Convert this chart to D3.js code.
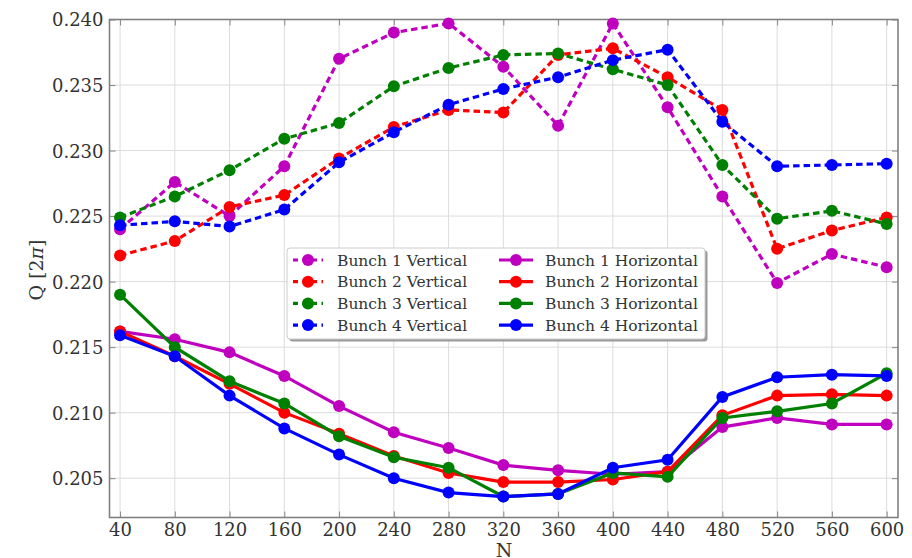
<!DOCTYPE html>
<html>
<head>
<meta charset="utf-8">
<script src="https://cdn.jsdelivr.net/npm/d3@7"></script>
<style>
  html, body { margin: 0; padding: 0; background: #fff; }
  svg { display: block; }
  text { font-family: "DejaVu Serif", serif; fill: #333; }
</style>
</head>
<body>
<svg id="chart" width="912" height="558"></svg>
<script>
const N = [40, 80, 120, 160, 200, 240, 280, 320, 360, 400, 440, 480, 520, 560, 600];
const xTicks = [40, 80, 120, 160, 200, 240, 280, 320, 360, 400, 440, 480, 520, 560, 600];
const yTicks = [0.205, 0.210, 0.215, 0.220, 0.225, 0.230, 0.235, 0.240];

const bunch1Vertical   = [0.2240, 0.2276, 0.2250, 0.2288, 0.2370, 0.2390, 0.2397, 0.2364, 0.2319, 0.2397, 0.2333, 0.2265, 0.2199, 0.2221, 0.2211];
const bunch2Vertical   = [0.2220, 0.2231, 0.2257, 0.2266, 0.2294, 0.2318, 0.2331, 0.2329, 0.2373, 0.2378, 0.2356, 0.2331, 0.2225, 0.2239, 0.2249];
const bunch3Vertical   = [0.2249, 0.2265, 0.2285, 0.2309, 0.2321, 0.2349, 0.2363, 0.2373, 0.2374, 0.2362, 0.2350, 0.2289, 0.2248, 0.2254, 0.2244];
const bunch4Vertical   = [0.2243, 0.2246, 0.2242, 0.2255, 0.2291, 0.2314, 0.2335, 0.2347, 0.2356, 0.2369, 0.2377, 0.2322, 0.2288, 0.2289, 0.2290];
const bunch1Horizontal = [0.2162, 0.2156, 0.2146, 0.2128, 0.2105, 0.2085, 0.2073, 0.2060, 0.2056, 0.2053, 0.2055, 0.2089, 0.2096, 0.2091, 0.2091];
const bunch2Horizontal = [0.2162, 0.2143, 0.2122, 0.2100, 0.2084, 0.2067, 0.2054, 0.2047, 0.2047, 0.2049, 0.2055, 0.2098, 0.2113, 0.2114, 0.2113];
const bunch3Horizontal = [0.2190, 0.2150, 0.2124, 0.2107, 0.2082, 0.2066, 0.2058, 0.2036, 0.2038, 0.2054, 0.2051, 0.2096, 0.2101, 0.2107, 0.2130];
const bunch4Horizontal = [0.2159, 0.2143, 0.2113, 0.2088, 0.2068, 0.2050, 0.2039, 0.2036, 0.2038, 0.2058, 0.2064, 0.2112, 0.2127, 0.2129, 0.2128];

const seriesNames  = ["Bunch 1 Vertical", "Bunch 2 Vertical", "Bunch 3 Vertical", "Bunch 4 Vertical",
                      "Bunch 1 Horizontal", "Bunch 2 Horizontal", "Bunch 3 Horizontal", "Bunch 4 Horizontal"];
const seriesValues = [bunch1Vertical, bunch2Vertical, bunch3Vertical, bunch4Vertical,
                      bunch1Horizontal, bunch2Horizontal, bunch3Horizontal, bunch4Horizontal];
const colors = ["#bf00bf", "#ff0000", "#008000", "#0000ff"];

const svg = d3.select("#chart");
const L = 109.5, R = 898, T = 19.5, B = 517.5;
const x = d3.scaleLinear().domain([32.3, 608.3]).range([L, R]);
const y = d3.scaleLinear().domain([0.202, 0.240]).range([B, T]);

// grid
const grid = svg.append("g");
grid.selectAll("line.vx").data(xTicks).enter().append("line")
  .attr("x1", d => x(d)).attr("x2", d => x(d)).attr("y1", T).attr("y2", B)
  .attr("stroke", "#dcdcdc").attr("stroke-width", 1);
grid.selectAll("line.hy").data(yTicks).enter().append("line")
  .attr("x1", L).attr("x2", R).attr("y1", d => y(d)).attr("y2", d => y(d))
  .attr("stroke", "#dcdcdc").attr("stroke-width", 1);

// axes (ticks inside)
const axFont = "18px";
const xAxis = svg.append("g").attr("transform", `translate(0,${B})`)
  .call(d3.axisBottom(x).tickValues(xTicks).tickFormat(d3.format("d")).tickSizeInner(-6).tickSizeOuter(0).tickPadding(6));
const yAxis = svg.append("g").attr("transform", `translate(${L},0)`)
  .call(d3.axisLeft(y).tickValues(yTicks).tickFormat(d3.format(".3f")).tickSizeInner(-6).tickSizeOuter(0).tickPadding(6));
const xTop = svg.append("g").attr("transform", `translate(0,${T})`)
  .call(d3.axisTop(x).tickValues(xTicks).tickFormat("").tickSizeInner(-6).tickSizeOuter(0));
const yRight = svg.append("g").attr("transform", `translate(${R},0)`)
  .call(d3.axisRight(y).tickValues(yTicks).tickFormat("").tickSizeInner(-6).tickSizeOuter(0));
[xAxis, yAxis, xTop, yRight].forEach(g => {
  g.select(".domain").remove();
  g.selectAll("line").attr("stroke", "#888").attr("stroke-width", 1);
  g.selectAll("text").style("font-family", "DejaVu Serif, serif").style("font-size", axFont).attr("fill", "#333");
});
yAxis.selectAll("text").attr("dy", "0.36em");

// frame
svg.append("rect").attr("x", L).attr("y", T).attr("width", R - L).attr("height", B - T)
  .attr("fill", "none").attr("stroke", "#808080").attr("stroke-width", 1.6);

// series
const lineGen = d3.line().x((d, i) => x(N[i])).y(d => y(d));
const plot = svg.append("g");
seriesValues.forEach((vals, s) => {
  const col = colors[s % 4];
  const dashed = s < 4;
  plot.append("path").datum(vals).attr("d", lineGen)
    .attr("fill", "none").attr("stroke", col).attr("stroke-width", 3.2)
    .attr("stroke-dasharray", dashed ? "6.5,4" : null);
  plot.selectAll(null).data(vals).enter().append("circle")
    .attr("cx", (d, i) => x(N[i])).attr("cy", d => y(d)).attr("r", 6)
    .attr("fill", col);
});

// legend
const lg = svg.append("g");
const lx = 287, ly = 248, lw = 418, lh = 91;
lg.append("rect").attr("x", lx + 2.5).attr("y", ly + 2.5).attr("width", lw).attr("height", lh)
  .attr("rx", 3).attr("fill", "#9a9a9a");
lg.append("rect").attr("x", lx).attr("y", ly).attr("width", lw).attr("height", lh)
  .attr("rx", 3).attr("fill", "#fff").attr("stroke", "#cccccc").attr("stroke-width", 1);
seriesNames.forEach((name, s) => {
  const col = s < 4 ? 0 : 1;
  const row = s % 4;
  const cy = 260 + row * 21.7;
  const x0 = col === 0 ? 293 : 499;
  const x1 = col === 0 ? 323 : 533;
  const c = colors[s % 4];
  lg.append("line").attr("x1", x0).attr("x2", x1).attr("y1", cy).attr("y2", cy)
    .attr("stroke", c).attr("stroke-width", 3.2)
    .attr("stroke-dasharray", s < 4 ? "5,4.5" : null);
  lg.append("circle").attr("cx", (x0 + x1) / 2).attr("cy", cy).attr("r", 6).attr("fill", c);
  lg.append("text").attr("x", col === 0 ? 337 : 545).attr("y", cy).attr("dy", "0.36em")
    .style("font-size", "15.5px").attr("fill", "#333").text(name);
});

// axis labels
svg.append("text").attr("transform", "translate(43,270) rotate(-90)")
  .attr("text-anchor", "middle").style("font-size", "19px").attr("fill", "#333")
  .html('Q [2<tspan font-style="italic">π</tspan>]');
svg.append("text").attr("x", 504).attr("y", 557).attr("text-anchor", "middle")
  .style("font-size", "19px").attr("fill", "#333").text("N");
</script>
</body>
</html>
